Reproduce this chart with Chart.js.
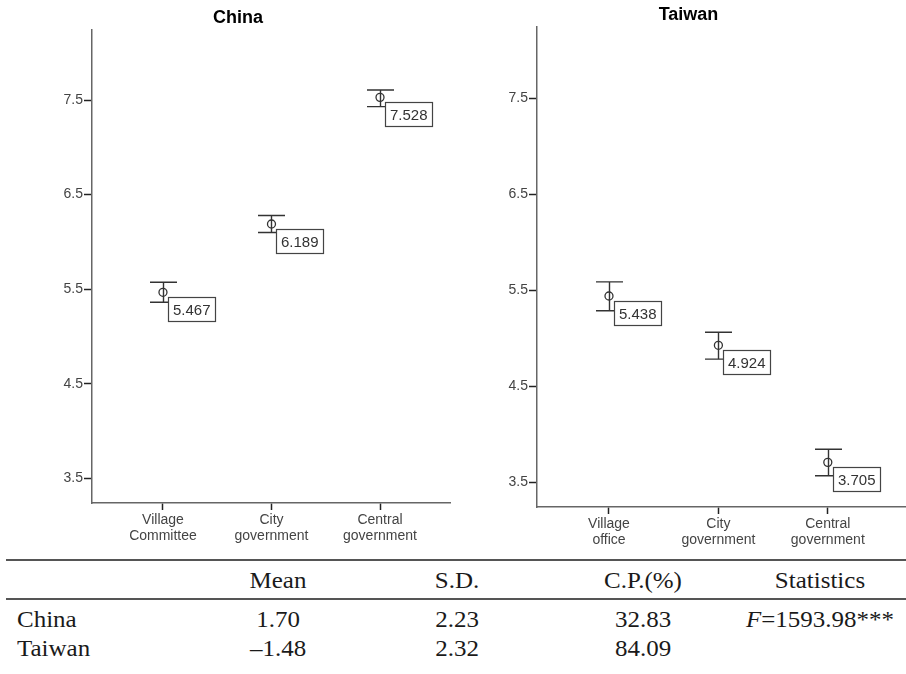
<!DOCTYPE html>
<html>
<head>
<meta charset="utf-8">
<script src="https://cdn.jsdelivr.net/npm/chart.js@4/dist/chart.umd.min.js"></script>
<style>
body{margin:0;background:#fff;}
#page{position:relative;width:906px;height:674px;overflow:hidden;background:#fff;}
canvas{position:absolute;top:0;}
.rule{position:absolute;left:6px;width:900px;height:2px;background:#555;}
.cell{position:absolute;font:25px "Liberation Serif",serif;line-height:25px;height:25px;color:#1a1a1a;white-space:nowrap;
  transform:translateX(-50%) scaleY(0.92);transform-origin:50% 84%;}
.cell.lbl{transform:scaleY(0.92);}
</style>
</head>
<body>
<div id="page">
  <canvas id="china" width="476" height="556" style="left:0"></canvas>
  <canvas id="taiwan" width="445" height="556" style="left:466px"></canvas>
  <div id="table"></div>
</div>
<script>
// chart values
const chinaCats=[["Village","Committee"],["City","government"],["Central","government"]];
const chinaMean=[5.467,6.189,7.528];
const chinaLow=[5.362,6.100,7.430];
const chinaHigh=[5.574,6.279,7.605];

const taiwanCats=[["Village","office"],["City","government"],["Central","government"]];
const taiwanMean=[5.438,4.924,3.705];
const taiwanLow=[5.285,4.780,3.565];
const taiwanHigh=[5.585,5.060,3.842];

const yTicks=[3.5,4.5,5.5,6.5,7.5];

// table below the charts
const tableHead=["Mean","S.D.","C.P.(%)","Statistics"];
const tableRows=[
  ["China","1.70","2.23","32.83","<i>F</i>=1593.98***"],
  ["Taiwan","\u20131.48","2.32","84.09",""]
];

const ink="#333";
const sans="'Liberation Sans', Arial, sans-serif";

const errorBars={
  id:"errorBars",
  beforeDatasetsDraw(chart){
    const ctx=chart.ctx,x=chart.scales.x,y=chart.scales.y,ds=chart.data.datasets[0];
    ctx.save();
    ctx.strokeStyle=ink; ctx.lineWidth=1.4;
    ds.errLow.forEach((lo,i)=>{
      let px=Math.round(x.getPixelForValue(i))+0.5,
          top=y.getPixelForValue(ds.errHigh[i]),bot=y.getPixelForValue(lo);
      ctx.beginPath();
      ctx.moveTo(px,top); ctx.lineTo(px,bot);
      ctx.moveTo(px-13.5,top); ctx.lineTo(px+13.5,top);
      ctx.moveTo(px-13.5,bot); ctx.lineTo(px+13.5,bot);
      ctx.stroke();
    });
    ctx.restore();
  },
  afterDatasetsDraw(chart){
    const ctx=chart.ctx,ds=chart.data.datasets[0];
    ctx.save();
    ctx.font="15px "+sans;
    ctx.lineWidth=1.2;
    chart.getDatasetMeta(0).data.forEach((pt,i)=>{
      let txt=ds.data[i].y.toFixed(3);
      let w=Math.round(ctx.measureText(txt).width)+9,h=24;
      let bx=Math.round(pt.x)+5,by=Math.round(pt.y)+5;
      ctx.fillStyle="#fff"; ctx.fillRect(bx,by,w,h);
      ctx.strokeStyle="#444"; ctx.strokeRect(bx+0.5,by+0.5,w,h);
      ctx.fillStyle=ink; ctx.textBaseline="middle";
      ctx.fillText(txt,bx+5,by+h/2+1.5);
    });
    ctx.restore();
  }
};

function makeChart(id,title,cats,mean,low,high,o){
  return new Chart(document.getElementById(id),{
    type:"scatter",
    data:{datasets:[{
      data:mean.map((m,i)=>({x:i,y:m})),
      errLow:low,errHigh:high,
      pointRadius:4,pointBorderWidth:1.3,
      pointBorderColor:ink,pointBackgroundColor:"rgba(0,0,0,0)"
    }]},
    options:{
      responsive:false,animation:false,events:[],
      layout:{padding:{top:0,left:o.padLeft,bottom:0,right:o.padRight}},
      plugins:{
        legend:{display:false},tooltip:{enabled:false},
        title:{display:true,text:title,color:"#000",
          font:{family:sans,size:18,weight:"bold",lineHeight:1.2},
          padding:{top:o.titleTop,bottom:o.titleBottom}}
      },
      scales:{
        x:{type:"linear",min:o.xMin,max:o.xMax,
          afterBuildTicks:s=>{s.ticks=cats.map((c,i)=>({value:i}));},
          afterFit:s=>{s.height=o.xHeight;s.paddingLeft=0;s.paddingRight=0;},
          ticks:{callback:v=>cats[v],color:"#444",font:{family:sans,size:14,lineHeight:1.08},
            padding:3,autoSkip:false,maxRotation:0},
          grid:{drawOnChartArea:false,tickLength:7,tickColor:"#222",tickWidth:1.5},
          border:{color:"#666",width:1.5}},
        y:{min:3.24,max:8.24,
          afterBuildTicks:s=>{s.ticks=yTicks.map(v=>({value:v}));},
          afterFit:s=>{s.width=o.yWidth;},
          ticks:{callback:v=>v.toFixed(1),color:"#444",font:{family:sans,size:14},padding:1},
          grid:{drawOnChartArea:false,tickLength:8,tickColor:"#222",tickWidth:1.5},
          border:{color:"#666",width:1.5}}
      }
    },
    plugins:[errorBars]
  });
}

makeChart("china","China",chinaCats,chinaMean,chinaLow,chinaHigh,
  {padLeft:26,padRight:26,titleTop:7,titleBottom:1.4,xMin:-0.654,xMax:2.645,xHeight:53,yWidth:66});
makeChart("taiwan","Taiwan",taiwanCats,taiwanMean,taiwanLow,taiwanHigh,
  {padLeft:0,padRight:0,titleTop:4,titleBottom:1.4,xMin:-0.658,xMax:2.712,xHeight:49,yWidth:71});

// table
const tbl=document.getElementById("table");
const colX=[278,457,643,820];
const rowBase=[588,627,656];
[559,598].forEach(t=>{
  let d=document.createElement("div"); d.className="rule"; d.style.top=t+"px"; tbl.appendChild(d);
});
function cell(html,x,base,left){
  let d=document.createElement("div");
  d.className=left?"cell lbl":"cell";
  d.innerHTML=html;
  d.style.left=x+"px";
  d.style.top=(base-21)+"px";
  tbl.appendChild(d);
}
tableHead.forEach((h,i)=>cell(h,colX[i],rowBase[0]));
tableRows.forEach((r,j)=>{
  cell(r[0],17,rowBase[j+1],true);
  r.slice(1).forEach((v,i)=>{ if(v) cell(v,colX[i],rowBase[j+1]); });
});
</script>
</body>
</html>
